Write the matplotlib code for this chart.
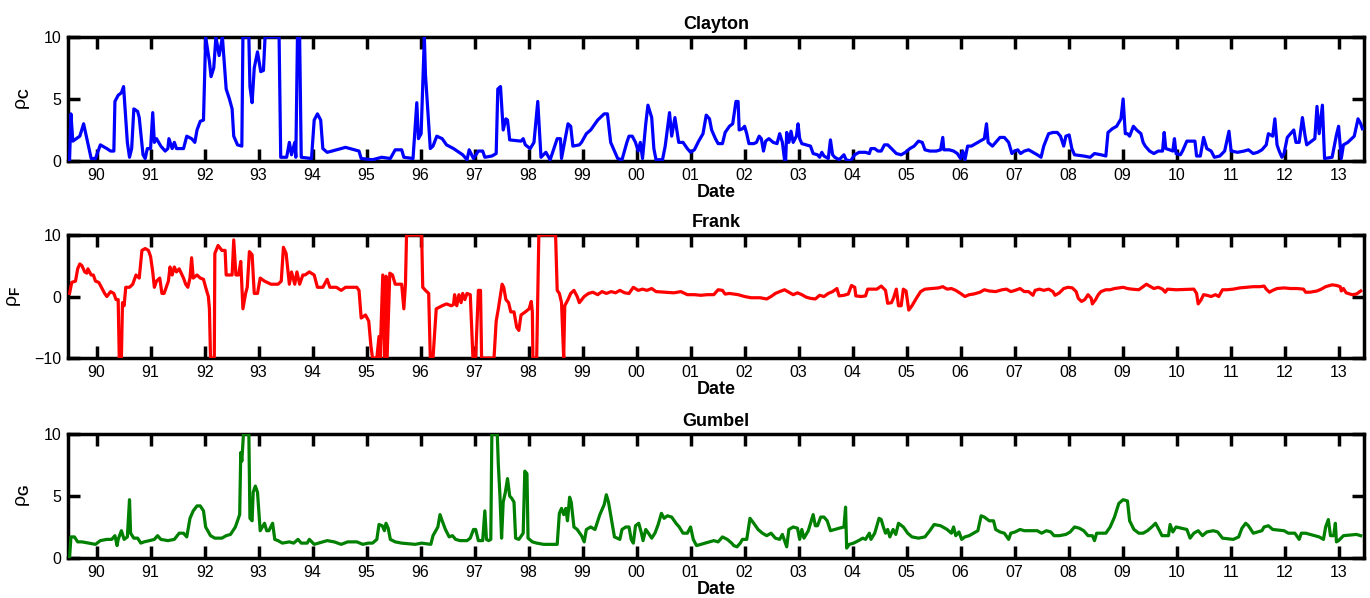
import numpy as np
import matplotlib
matplotlib.use('Agg')
from matplotlib import pyplot as plt

plt.rcParams['font.family'] = ['Liberation Sans', 'DejaVu Sans']
plt.rcParams['mathtext.fontset'] = 'custom'
plt.rcParams['mathtext.rm'] = 'Liberation Sans'
plt.rcParams['mathtext.it'] = 'Liberation Sans'
plt.rcParams['mathtext.bf'] = 'Liberation Sans:bold'

# Clayton
clayton_t = [1989.50, 1989.525, 1989.56, 1989.69, 1989.76, 1989.83, 1989.90, 1989.98, 1990.07, 1990.19,
             1990.26, 1990.32, 1990.34, 1990.40, 1990.46, 1990.50, 1990.57, 1990.61, 1990.65, 1990.69,
             1990.76, 1990.79, 1990.86, 1990.90, 1990.94, 1991.00, 1991.04, 1991.07, 1991.11, 1991.19,
             1991.27, 1991.32, 1991.34, 1991.40, 1991.44, 1991.48, 1991.61, 1991.67, 1991.76, 1991.82,
             1991.86, 1991.92, 1991.98, 1992.02, 1992.09, 1992.12, 1992.17, 1992.21, 1992.27, 1992.33,
             1992.40, 1992.46, 1992.51, 1992.54, 1992.61, 1992.69, 1992.71, 1992.82, 1992.84, 1992.88,
             1992.92, 1992.98, 1993.04, 1993.09, 1993.12, 1993.38, 1993.41, 1993.52, 1993.57, 1993.61,
             1993.67, 1993.69, 1993.72, 1993.76, 1993.79, 1993.98, 1994.03, 1994.09, 1994.15, 1994.19,
             1994.27, 1994.36, 1994.53, 1994.61, 1994.78, 1994.86, 1994.90, 1995.11, 1995.28, 1995.44,
             1995.53, 1995.65, 1995.69, 1995.86, 1995.93, 1995.96, 1996.01, 1996.07, 1996.09, 1996.18,
             1996.23, 1996.30, 1996.40, 1996.48, 1996.61, 1996.78, 1996.86, 1996.90, 1996.98, 1997.07,
             1997.15, 1997.19, 1997.32, 1997.40, 1997.43, 1997.48, 1997.53, 1997.58, 1997.61, 1997.65,
             1997.86, 1997.90, 1997.94, 1998.03, 1998.10, 1998.17, 1998.23, 1998.32, 1998.40, 1998.53,
             1998.59, 1998.61, 1998.73, 1998.78, 1998.82, 1998.94, 1998.98, 1999.07, 1999.15, 1999.28,
             1999.40, 1999.46, 1999.52, 1999.65, 1999.73, 1999.82, 1999.86, 1999.92, 1999.98, 2000.03,
             2000.07, 2000.11, 2000.17, 2000.21, 2000.28, 2000.32, 2000.36, 2000.48, 2000.53, 2000.61,
             2000.65, 2000.71, 2000.78, 2000.86, 2000.94, 2001.00, 2001.07, 2001.15, 2001.23, 2001.29,
             2001.35, 2001.39, 2001.46, 2001.51, 2001.59, 2001.64, 2001.72, 2001.78, 2001.84, 2001.88,
             2001.90, 2001.96, 2002.00, 2002.04, 2002.08, 2002.17, 2002.22, 2002.27, 2002.31, 2002.35,
             2002.39, 2002.45, 2002.53, 2002.60, 2002.65, 2002.70, 2002.74, 2002.76, 2002.78, 2002.82,
             2002.86, 2002.90, 2002.96, 2002.99, 2003.02, 2003.06, 2003.14, 2003.22, 2003.27, 2003.35,
             2003.39, 2003.43, 2003.47, 2003.55, 2003.59, 2003.63, 2003.67, 2003.75, 2003.84, 2003.88,
             2003.96, 2004.04, 2004.12, 2004.24, 2004.31, 2004.34, 2004.41, 2004.47, 2004.53, 2004.59,
             2004.65, 2004.72, 2004.81, 2004.90, 2004.98, 2005.06, 2005.14, 2005.22, 2005.29, 2005.34,
             2005.43, 2005.55, 2005.63, 2005.67, 2005.69, 2005.79, 2005.87, 2005.94, 2006.00, 2006.04,
             2006.08, 2006.13, 2006.20, 2006.28, 2006.36, 2006.44, 2006.48, 2006.51, 2006.59, 2006.65,
             2006.73, 2006.81, 2006.89, 2006.95, 2007.00, 2007.06, 2007.11, 2007.18, 2007.26, 2007.34,
             2007.42, 2007.49, 2007.54, 2007.63, 2007.71, 2007.79, 2007.85, 2007.91, 2007.95, 2008.01,
             2008.06, 2008.11, 2008.28, 2008.40, 2008.48, 2008.60, 2008.69, 2008.73, 2008.81, 2008.89,
             2008.97, 2009.01, 2009.05, 2009.09, 2009.13, 2009.20, 2009.26, 2009.34, 2009.38, 2009.42,
             2009.50, 2009.58, 2009.66, 2009.74, 2009.77, 2009.80, 2009.87, 2009.93, 2009.96, 2009.99,
             2010.07, 2010.11, 2010.19, 2010.34, 2010.37, 2010.44, 2010.50, 2010.56, 2010.64, 2010.70,
             2010.80, 2010.89, 2010.97, 2011.01, 2011.13, 2011.25, 2011.33, 2011.42, 2011.50, 2011.58,
             2011.66, 2011.70, 2011.78, 2011.82, 2011.86, 2011.90, 2011.95, 2011.99, 2012.05, 2012.11,
             2012.17, 2012.21, 2012.27, 2012.33, 2012.38, 2012.41, 2012.47, 2012.56, 2012.60, 2012.64,
             2012.70, 2012.74, 2012.88, 2012.96, 2013.00, 2013.05, 2013.09, 2013.17, 2013.29, 2013.36,
             2013.41, 2013.44]
clayton_v = [0.1, 3.8, 1.6, 2.0, 3.0, 1.6, 0.2, 0.2, 1.3, 1.0,
             0.8, 0.8, 4.8, 5.3, 5.5, 6.0, 1.5, 0.3, 1.0, 4.2,
             4.0, 3.5, 0.5, 0.2, 1.0, 1.0, 3.9, 1.5, 1.8, 1.2,
             0.8, 1.0, 1.8, 1.0, 1.5, 1.0, 1.0, 2.0, 1.8, 1.5,
             2.5, 3.2, 3.3, 10, 8.0, 6.8, 7.5, 10, 8.5, 10,
             5.8, 5.0, 4.2, 2.0, 1.3, 1.2, 10, 10, 6.0, 4.7,
             7.5, 8.8, 7.2, 7.3, 10, 10, 0.3, 0.3, 1.5, 0.5,
             1.5, 0.3, 10, 10, 0.3, 0.2, 3.3, 3.8, 3.3, 1.0,
             0.7, 0.8, 1.0, 1.1, 0.9, 0.8, 0.2, 0.1, 0.3, 0.2,
             0.9, 0.9, 0.3, 0.2, 4.7, 1.8, 2.2, 10, 7.0, 1.0,
             1.2, 2.0, 1.8, 1.3, 1.0, 0.5, 0.1, 0.9, 0.2, 0.8,
             0.8, 0.3, 0.4, 0.6, 5.8, 6.0, 2.5, 3.4, 3.3, 1.7,
             1.6, 1.8, 1.3, 1.0, 1.5, 4.8, 0.3, 0.7, 0.1, 1.8,
             1.8, 0.2, 3.0, 2.8, 1.2, 1.3, 1.5, 2.2, 2.5, 3.3,
             3.8, 3.8, 1.5, 0.2, 0.1, 1.5, 2.0, 2.0, 1.5, 0.8,
             1.5, 0.2, 3.0, 4.5, 3.5, 1.0, 0.1, 0.1, 1.2, 3.9,
             2.0, 3.5, 1.5, 1.5, 1.0, 0.7, 0.9, 1.6, 2.2, 3.7,
             3.4, 2.5, 1.8, 1.4, 1.4, 2.3, 2.8, 3.0, 4.8, 4.8,
             2.5, 2.6, 2.8, 2.2, 1.4, 1.4, 1.5, 2.0, 1.8, 0.8,
             1.6, 1.8, 1.5, 1.4, 2.2, 1.5, 0.1, 0.0, 2.3, 1.5,
             2.4, 1.5, 2.0, 3.0, 1.8, 1.4, 1.3, 1.2, 0.6, 0.5,
             0.3, 0.7, 0.4, 0.2, 1.7, 0.5, 0.3, 0.1, 0.5, 0.1,
             0.0, 0.5, 0.7, 0.7, 0.6, 1.0, 1.0, 0.8, 0.8, 1.3,
             1.3, 1.0, 0.6, 0.5, 0.7, 1.0, 1.2, 1.6, 1.5, 0.9,
             0.8, 0.8, 0.9, 1.9, 0.9, 0.9, 0.8, 0.6, 0.2, 0.8,
             0.1, 1.2, 1.2, 1.4, 1.6, 1.8, 3.0, 1.5, 1.2, 1.5,
             1.9, 1.9, 1.5, 0.6, 0.8, 0.9, 0.6, 0.8, 0.9, 0.7,
             0.5, 0.3, 1.2, 2.2, 2.3, 2.3, 2.0, 1.2, 2.0, 2.1,
             1.0, 0.5, 0.4, 0.3, 0.6, 0.5, 0.4, 2.3, 2.6, 2.8,
             3.4, 5.0, 2.2, 2.2, 2.0, 2.8, 2.5, 2.2, 1.5, 1.2,
             0.8, 0.6, 0.8, 0.8, 2.3, 1.0, 0.9, 0.8, 1.8, 0.6,
             0.5, 0.8, 1.6, 1.6, 0.4, 0.4, 1.9, 1.0, 0.8, 0.3,
             0.4, 0.8, 2.4, 0.8, 0.7, 0.8, 0.9, 0.6, 0.7, 0.9,
             1.3, 2.2, 2.0, 3.4, 1.3, 0.8, 0.3, 0.6, 1.9, 2.2,
             2.5, 1.5, 1.5, 3.5, 2.0, 1.3, 1.5, 1.8, 4.4, 2.2,
             4.5, 0.2, 0.3, 2.1, 2.8, 0.2, 1.3, 1.5, 2.0, 3.4,
             3.0, 2.6]

# Frank
frank_t = [1989.50, 1989.54, 1989.61, 1989.65, 1989.69, 1989.73, 1989.78, 1989.82, 1989.84, 1989.90,
           1989.94, 1989.98, 1990.04, 1990.09, 1990.15, 1990.19, 1990.26, 1990.32, 1990.36, 1990.40,
           1990.42, 1990.46, 1990.48, 1990.51, 1990.54, 1990.61, 1990.67, 1990.73, 1990.79, 1990.84,
           1990.90, 1990.96, 1991.00, 1991.04, 1991.07, 1991.11, 1991.17, 1991.21, 1991.25, 1991.29,
           1991.33, 1991.36, 1991.40, 1991.44, 1991.48, 1991.53, 1991.61, 1991.65, 1991.69, 1991.73,
           1991.76, 1991.79, 1991.86, 1991.92, 1991.98, 1992.02, 1992.07, 1992.09, 1992.11, 1992.18,
           1992.19, 1992.25, 1992.32, 1992.38, 1992.40, 1992.51, 1992.54, 1992.58, 1992.63, 1992.67,
           1992.71, 1992.76, 1992.79, 1992.83, 1992.88, 1992.92, 1992.98, 1993.03, 1993.11, 1993.23,
           1993.36, 1993.42, 1993.46, 1993.51, 1993.57, 1993.61, 1993.67, 1993.71, 1993.76, 1993.82,
           1993.86, 1993.94, 1994.03, 1994.09, 1994.19, 1994.27, 1994.32, 1994.44, 1994.53, 1994.61,
           1994.82, 1994.86, 1994.90, 1994.98, 1995.04, 1995.08, 1995.11, 1995.19, 1995.23, 1995.25,
           1995.30, 1995.33, 1995.36, 1995.38, 1995.43, 1995.48, 1995.53, 1995.65, 1995.69, 1995.72,
           1995.74, 1996.02, 1996.04, 1996.09, 1996.15, 1996.18, 1996.23, 1996.29, 1996.40, 1996.48,
           1996.57, 1996.61, 1996.63, 1996.67, 1996.71, 1996.75, 1996.78, 1996.82, 1996.86, 1996.92,
           1996.97, 1997.02, 1997.07, 1997.11, 1997.13, 1997.36, 1997.40, 1997.44, 1997.51, 1997.54,
           1997.58, 1997.63, 1997.67, 1997.73, 1997.78, 1997.82, 1997.86, 1997.94, 1998.01, 1998.05,
           1998.07, 1998.08, 1998.15, 1998.19, 1998.50, 1998.53, 1998.57, 1998.61, 1998.65, 1998.67,
           1998.73, 1998.78, 1998.84, 1998.90, 1998.94, 1999.03, 1999.11, 1999.19, 1999.28, 1999.36,
           1999.44, 1999.53, 1999.61, 1999.69, 1999.78, 1999.86, 1999.94, 2000.03, 2000.11, 2000.19,
           2000.28, 2000.36, 2000.53, 2000.69, 2000.82, 2000.94, 2001.07, 2001.19, 2001.31, 2001.43,
           2001.51, 2001.59, 2001.64, 2001.72, 2001.88, 2002.00, 2002.12, 2002.29, 2002.41, 2002.49,
           2002.57, 2002.65, 2002.74, 2002.82, 2002.90, 2002.98, 2003.06, 2003.14, 2003.22, 2003.31,
           2003.39, 2003.47, 2003.55, 2003.63, 2003.71, 2003.75, 2003.84, 2003.92, 2003.98, 2004.04,
           2004.06, 2004.16, 2004.24, 2004.28, 2004.45, 2004.53, 2004.61, 2004.65, 2004.72, 2004.76,
           2004.81, 2004.85, 2004.90, 2004.94, 2004.99, 2005.04, 2005.10, 2005.18, 2005.26, 2005.34,
           2005.47, 2005.59, 2005.67, 2005.75, 2005.83, 2005.91, 2006.00, 2006.08, 2006.16, 2006.24,
           2006.36, 2006.44, 2006.53, 2006.65, 2006.77, 2006.85, 2006.93, 2007.01, 2007.10, 2007.18,
           2007.26, 2007.34, 2007.38, 2007.46, 2007.54, 2007.63, 2007.71, 2007.75, 2007.83, 2007.91,
           2007.99, 2008.07, 2008.14, 2008.18, 2008.24, 2008.30, 2008.36, 2008.42, 2008.44, 2008.50,
           2008.55, 2008.60, 2008.69, 2008.77, 2008.85, 2008.93, 2009.01, 2009.09, 2009.17, 2009.30,
           2009.38, 2009.44, 2009.50, 2009.58, 2009.66, 2009.74, 2009.79, 2009.83, 2009.99, 2010.32,
           2010.37, 2010.40, 2010.45, 2010.50, 2010.56, 2010.64, 2010.72, 2010.78, 2010.85, 2010.93,
           2011.05, 2011.17, 2011.29, 2011.42, 2011.54, 2011.62, 2011.66, 2011.72, 2011.78, 2011.86,
           2011.99, 2012.11, 2012.23, 2012.35, 2012.39, 2012.47, 2012.60, 2012.68, 2012.76, 2012.88,
           2012.96, 2013.03, 2013.05, 2013.09, 2013.14, 2013.25, 2013.33, 2013.41]
frank_v = [0.5, 2.3, 2.5, 4.5, 5.3, 5.0, 4.0, 3.8, 4.5, 3.5,
           3.5, 2.5, 2.3, 1.5, 0.5, 0.0, 0.8, 0.5, -0.5, -0.5,
           -10, -10, -1.0, -1.5, 1.5, 1.5, 2.0, 3.5, 3.0, 7.5,
           7.8, 7.5, 6.5, 4.0, 1.5, 2.5, 3.0, 0.5, 0.5, 1.5,
           2.5, 4.8, 3.5, 4.8, 4.0, 4.5, 3.0, 2.0, 1.5, 3.0,
           6.3, 3.0, 3.5, 3.0, 2.8, 1.5, 0.0, -2.0, -10, -10,
           7.0, 8.3, 7.5, 7.5, 3.5, 3.5, 9.2, 3.5, 3.5, 5.7,
           -2.0, 0.5, 1.5, 7.3, 6.8, 0.5, 0.5, 3.0, 2.5, 2.0,
           2.0, 2.5, 8.0, 7.0, 2.0, 4.0, 2.0, 4.0, 2.0, 3.5,
           3.5, 4.0, 3.5, 1.5, 1.5, 2.8, 1.5, 1.5, 1.0, 1.5,
           1.5, 1.0, -3.5, -3.0, -4.0, -8.0, -10, -10, -6.5, -10,
           3.5, -10, 3.3, -10, 3.8, 3.5, 2.0, 2.0, -2.0, 2.0,
           10, 10, 1.5, 1.0, 0.5, -10, -10, -2.0, -1.5, -1.2,
           -1.5, -1.3, 0.3, -1.5, 0.3, -1.0, 0.5, -0.5, 0.5, 0.3,
           -10, -10, 1.0, 1.0, -10, -10, -4.0, -2.0, 2.0, 1.5,
           -0.5, -1.0, -2.5, -2.5, -5.0, -5.5, -3.0, -2.5, -2.0, -0.8,
           -2.5, -10, -10, 10, 10, 1.0, 0.5, -1.0, -10, -1.5,
           -0.5, 0.5, 1.0, 0.0, -1.0, 0.0, 0.5, 0.7, 0.3, 0.8,
           0.5, 0.8, 0.6, 1.0, 0.6, 0.5, 1.5, 1.0, 1.2, 1.0,
           1.3, 0.8, 0.7, 0.6, 0.8, 0.3, 0.3, 0.2, 0.3, 0.3,
           1.1, 1.0, 0.4, 0.5, 0.3, 0.0, -0.2, -0.2, -0.4, 0.0,
           0.5, 0.8, 1.1, 0.7, 0.3, 0.6, 0.3, -0.1, -0.3, -0.4,
           0.2, 0.0, 0.5, 0.8, 1.3, 0.1, 0.2, 0.4, 1.8, 1.5,
           0.1, 0.0, 0.1, 1.2, 1.2, 1.7, 1.0, -1.1, -1.0, -0.2,
           1.2, -1.5, -1.5, 1.2, 0.9, -2.2, -1.5, -0.3, 0.8, 1.2,
           1.3, 1.4, 1.6, 1.2, 1.3, 1.0, 0.5, 0.0, 0.3, 0.4,
           0.7, 1.1, 0.9, 0.8, 1.1, 1.2, 0.8, 1.0, 1.3, 0.8,
           0.8, 0.2, 1.0, 1.2, 1.0, 1.2, 0.8, 0.2, 0.6, 1.3,
           1.5, 1.4, 0.8, -0.3, -0.8, -0.5, 0.3, -0.3, -1.2, -0.5,
           0.3, 0.8, 1.1, 1.1, 1.3, 1.4, 1.5, 1.3, 1.2, 1.1,
           1.6, 2.0, 1.7, 1.3, 1.5, 1.2, 0.7, 1.2, 1.1, 1.2,
           0.5, -1.2, -0.6, 0.3, 0.2, 0.0, 0.3, 0.0, 1.1, 1.1,
           1.2, 1.4, 1.5, 1.6, 1.6, 1.7, 1.2, 0.7, 1.0, 1.3,
           1.4, 1.3, 1.3, 1.2, 0.7, 0.7, 0.9, 1.2, 1.6, 1.9,
           1.8, 1.6, 0.9, 1.3, 0.6, 0.3, 0.4, 0.9]

# Gumbel
gumbel_t = [1989.50, 1989.525, 1989.59, 1989.65, 1989.73, 1989.86, 1989.98, 1990.07, 1990.19, 1990.28,
            1990.34, 1990.38, 1990.40, 1990.46, 1990.51, 1990.57, 1990.61, 1990.63, 1990.69, 1990.76,
            1990.82, 1990.88, 1990.98, 1991.07, 1991.13, 1991.19, 1991.32, 1991.44, 1991.53, 1991.61,
            1991.67, 1991.73, 1991.79, 1991.86, 1991.92, 1991.98, 1992.02, 1992.11, 1992.19, 1992.32,
            1992.40, 1992.48, 1992.57, 1992.65, 1992.67, 1992.69, 1992.72, 1992.82, 1992.84, 1992.88,
            1992.90, 1992.94, 1992.98, 1993.03, 1993.07, 1993.11, 1993.15, 1993.19, 1993.26, 1993.30,
            1993.36, 1993.44, 1993.57, 1993.65, 1993.73, 1993.79, 1993.90, 1993.94, 1994.03, 1994.19,
            1994.27, 1994.40, 1994.53, 1994.65, 1994.82, 1994.93, 1995.03, 1995.11, 1995.19, 1995.23,
            1995.29, 1995.33, 1995.36, 1995.40, 1995.44, 1995.53, 1995.65, 1995.90, 1996.02, 1996.19,
            1996.23, 1996.32, 1996.36, 1996.40, 1996.46, 1996.53, 1996.59, 1996.65, 1996.73, 1996.86,
            1996.92, 1996.98, 1997.02, 1997.07, 1997.15, 1997.19, 1997.22, 1997.26, 1997.30, 1997.32,
            1997.42, 1997.44, 1997.47, 1997.50, 1997.53, 1997.57, 1997.61, 1997.65, 1997.69, 1997.73,
            1997.76, 1997.82, 1997.90, 1997.93, 1997.97, 1997.99, 1998.07, 1998.15, 1998.28, 1998.53,
            1998.57, 1998.61, 1998.65, 1998.69, 1998.72, 1998.76, 1998.79, 1998.84, 1998.90, 1998.98,
            1999.03, 1999.07, 1999.15, 1999.23, 1999.32, 1999.40, 1999.44, 1999.48, 1999.52, 1999.59,
            1999.69, 1999.73, 1999.80, 1999.86, 1999.90, 1999.94, 1999.98, 2000.04, 2000.09, 2000.12,
            2000.17, 2000.22, 2000.28, 2000.34, 2000.40, 2000.46, 2000.51, 2000.57, 2000.65, 2000.73,
            2000.79, 2000.86, 2000.94, 2001.00, 2001.05, 2001.11, 2001.19, 2001.27, 2001.35, 2001.43,
            2001.51, 2001.59, 2001.68, 2001.76, 2001.80, 2001.86, 2001.92, 2001.96, 2002.04, 2002.10,
            2002.17, 2002.25, 2002.33, 2002.41, 2002.49, 2002.57, 2002.65, 2002.70, 2002.74, 2002.78,
            2002.82, 2002.90, 2002.98, 2003.02, 2003.06, 2003.10, 2003.18, 2003.27, 2003.31, 2003.35,
            2003.41, 2003.47, 2003.53, 2003.59, 2003.67, 2003.75, 2003.84, 2003.87, 2003.89, 2003.94,
            2004.02, 2004.11, 2004.19, 2004.24, 2004.31, 2004.34, 2004.41, 2004.49, 2004.53, 2004.57,
            2004.61, 2004.65, 2004.69, 2004.75, 2004.80, 2004.85, 2004.94, 2005.02, 2005.10, 2005.22,
            2005.34, 2005.43, 2005.51, 2005.63, 2005.75, 2005.83, 2005.87, 2005.91, 2005.97, 2006.02,
            2006.08, 2006.16, 2006.24, 2006.32, 2006.38, 2006.44, 2006.53, 2006.61, 2006.65, 2006.73,
            2006.81, 2006.89, 2006.93, 2007.01, 2007.10, 2007.18, 2007.42, 2007.50, 2007.59, 2007.67,
            2007.73, 2007.83, 2007.95, 2008.03, 2008.11, 2008.20, 2008.28, 2008.36, 2008.44, 2008.48,
            2008.52, 2008.69, 2008.77, 2008.85, 2008.93, 2009.01, 2009.09, 2009.13, 2009.21, 2009.30,
            2009.38, 2009.46, 2009.54, 2009.61, 2009.66, 2009.73, 2009.85, 2009.88, 2009.93, 2009.99,
            2010.19, 2010.25, 2010.32, 2010.40, 2010.48, 2010.56, 2010.68, 2010.76, 2010.85, 2011.05,
            2011.15, 2011.21, 2011.28, 2011.33, 2011.42, 2011.58, 2011.62, 2011.70, 2011.78, 2011.99,
            2012.07, 2012.19, 2012.27, 2012.31, 2012.39, 2012.56, 2012.64, 2012.72, 2012.76, 2012.81,
            2012.85, 2012.91, 2012.94, 2012.96, 2013.00, 2013.09, 2013.33, 2013.41]
gumbel_v = [0.0, 1.7, 1.7, 1.3, 1.3, 1.2, 1.1, 1.4, 1.5, 1.5,
            1.8, 1.0, 1.5, 2.2, 1.5, 1.7, 4.7, 2.0, 1.6, 1.6,
            1.2, 1.3, 1.4, 1.5, 1.8, 1.5, 1.4, 1.5, 2.0, 2.0,
            1.7, 3.2, 3.8, 4.2, 4.2, 3.8, 2.5, 1.8, 1.6, 1.6,
            1.8, 1.9, 2.5, 3.5, 8.5, 7.8, 10, 10, 3.2, 3.0,
            5.3, 5.8, 5.3, 2.2, 2.5, 2.8, 2.2, 2.2, 2.8, 1.5,
            1.4, 1.2, 1.3, 1.2, 1.5, 1.2, 1.2, 1.5, 1.1, 1.3,
            1.4, 1.3, 1.1, 1.3, 1.3, 1.1, 1.2, 1.2, 1.5, 2.7,
            2.6, 2.2, 2.8, 2.4, 1.5, 1.3, 1.2, 1.1, 1.2, 1.1,
            1.8, 2.5, 3.5, 3.0, 2.3, 1.7, 1.8, 1.5, 1.4, 1.4,
            1.6, 2.3, 2.3, 1.4, 1.4, 3.8, 1.5, 1.4, 1.5, 10,
            10, 7.5, 5.0, 1.6, 4.5, 5.3, 6.4, 5.0, 4.8, 4.5,
            1.6, 1.5, 2.0, 7.0, 6.8, 1.6, 1.3, 1.2, 1.1, 1.1,
            3.6, 4.0, 3.5, 4.0, 3.0, 4.9, 4.5, 2.5, 2.3, 1.8,
            1.3, 2.3, 2.5, 2.3, 3.5, 4.3, 5.1, 4.5, 3.5, 1.7,
            1.5, 2.3, 2.5, 2.5, 1.5, 1.2, 2.6, 2.8, 2.0, 1.4,
            2.3, 2.0, 1.6, 2.0, 2.7, 3.6, 3.2, 3.4, 3.3, 2.8,
            2.5, 2.0, 2.0, 2.5, 1.5, 1.0, 1.1, 1.2, 1.3, 1.4,
            1.3, 1.7, 1.5, 1.2, 1.0, 0.9, 1.2, 1.5, 1.5, 3.2,
            2.8, 2.3, 2.0, 1.8, 2.0, 1.6, 1.5, 1.9, 1.4, 0.9,
            2.3, 2.5, 2.4, 1.5, 2.3, 1.6, 2.2, 3.5, 2.6, 2.6,
            3.3, 3.3, 3.0, 2.2, 2.3, 2.4, 2.5, 4.1, 0.8, 1.1,
            1.2, 1.4, 1.6, 1.5, 2.0, 1.5, 2.0, 3.2, 3.1, 2.5,
            2.0, 2.3, 1.7, 2.3, 1.9, 2.8, 2.5, 2.0, 1.7, 1.6,
            1.7, 2.2, 2.7, 2.6, 2.3, 2.0, 2.5, 1.8, 2.1, 1.5,
            1.7, 1.8, 2.0, 2.2, 3.4, 3.3, 3.0, 3.0, 2.3, 2.1,
            2.0, 1.5, 2.0, 2.1, 2.3, 2.2, 2.2, 2.0, 2.2, 2.1,
            1.8, 1.8, 1.9, 2.1, 2.5, 2.4, 2.2, 1.8, 1.8, 1.4,
            2.0, 2.0, 2.5, 3.3, 4.4, 4.7, 4.6, 3.0, 2.3, 2.0,
            2.0, 2.2, 2.5, 2.8, 2.4, 1.8, 1.8, 2.7, 2.1, 2.5,
            2.3, 1.6, 2.0, 2.2, 1.8, 2.1, 2.2, 2.1, 1.6, 1.5,
            1.7, 2.4, 2.8, 2.6, 2.0, 2.2, 2.5, 2.6, 2.3, 2.2,
            2.0, 2.0, 1.5, 2.0, 2.0, 1.8, 1.7, 1.5, 2.5, 3.1,
            1.8, 1.8, 2.8, 1.3, 1.4, 1.8, 1.9, 1.8]

years = list(range(1990, 2014))
year_labels = ['%02d' % (y % 100) for y in years]

panels = [
    ('Clayton', clayton_t, clayton_v, 'blue', r'$\rho_\mathbf{C}$', (0, 10), [0, 5, 10]),
    ('Frank', frank_t, frank_v, 'red', r'$\rho_\mathbf{F}$', (-10, 10), [-10, 0, 10]),
    ('Gumbel', gumbel_t, gumbel_v, 'green', r'$\rho_\mathbf{G}$', (0, 10), [0, 5, 10]),
]
bottoms = [0.7308, 0.4013, 0.0669]
heights = [0.2074, 0.2057, 0.2074]

fig = plt.figure(figsize=(13.7, 5.98), dpi=100)
for (name, t, v, col, ylab, ylim, yt), b, h in zip(panels, bottoms, heights):
    ax = fig.add_axes([0.0496, b, 0.9460, h])
    ax.plot(t, v, color=col, lw=2.3, zorder=3)
    ax.set_xlim(1989.47, 2013.47)
    ax.set_ylim(*ylim)
    ax.set_xticks(years)
    ax.set_xticklabels(year_labels)
    ax.set_yticks(yt)
    ax.set_title(name, fontsize=13, fontweight='bold', pad=6)
    ax.set_xlabel('Date', fontsize=13, fontweight='bold', labelpad=1)
    ax.set_ylabel(ylab, fontsize=14, labelpad=8)
    ax.tick_params(direction='in', length=8.5, width=2.5, labelsize=11.5,
                   top=True, right=True, pad=5)
    for s in ax.spines.values():
        s.set_linewidth(2.5)

plt.savefig('out.png')
